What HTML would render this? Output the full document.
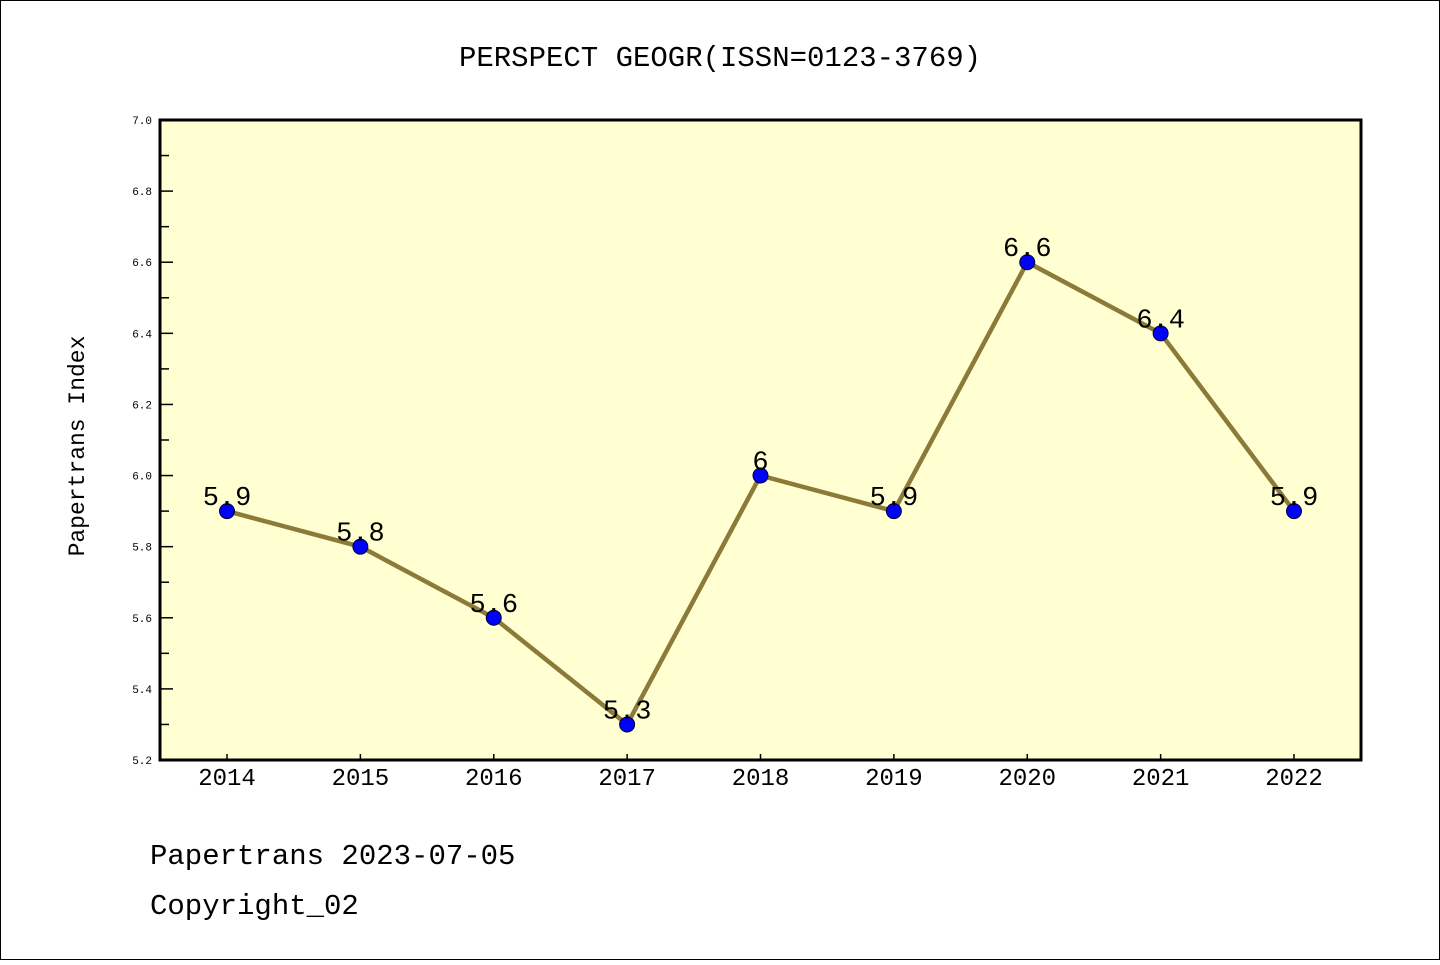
<!DOCTYPE html>
<html><head><meta charset="utf-8"><style>
body{margin:0;background:#fff}
svg text{font-family:"Liberation Mono","DejaVu Sans Mono",monospace}
</style></head><body>
<svg width="1440" height="960">
<rect x="0.5" y="0.5" width="1439" height="959" fill="#fff" stroke="#000"/>
<text x="720" y="66" text-anchor="middle" font-size="29">PERSPECT GEOGR(ISSN=0123-3769)</text>
<rect x="160" y="120" width="1201" height="640" fill="#ffffd2"/>
<g id="axes"></g>
<g id="marks"></g>
<rect x="160" y="120" width="1201" height="640" fill="none" stroke="#000" stroke-width="3"/>
<text transform="translate(84,446) rotate(-90)" text-anchor="middle" font-size="23">Papertrans Index</text>
<text x="150" y="864" font-size="29">Papertrans 2023-07-05</text>
<text x="150" y="914" font-size="29">Copyright_02</text>
</svg>
<script>
const years=["2014","2015","2016","2017","2018","2019","2020","2021","2022"];
const values=[5.9,5.8,5.6,5.3,6.0,5.9,6.6,6.4,5.9];
const labels=["5.9","5.8","5.6","5.3","6","5.9","6.6","6.4","5.9"];
const yTicks=[5.2,5.4,5.6,5.8,6.0,6.2,6.4,6.6,6.8,7.0];
const NS="http://www.w3.org/2000/svg";
const x=i=>227+i*(1294-227)/8;
const y=v=>760-(v-5.2)/(1.8)*640;
function mk(t,a,p){const e=document.createElementNS(NS,t);for(const k in a)e.setAttribute(k,a[k]);p.appendChild(e);return e;}
const ax=document.getElementById('axes'),mg=document.getElementById('marks');
yTicks.forEach((v,i)=>{
 const t=mk('line',{x1:160,x2:173,y1:y(v),y2:y(v),stroke:'#000','stroke-width':1.5},ax);
 
 
 const l=mk('text',{x:152,y:y(v)+4,'text-anchor':'end','font-size':11},ax);l.textContent=v.toFixed(1);
 
 
 if(i<yTicks.length-1){const m=mk('line',{x1:160,x2:169,y1:y(v+0.1),y2:y(v+0.1),stroke:'#000','stroke-width':1.5},ax);
 
 }
});
years.forEach((yr,i)=>{
 const t=mk('line',{x1:x(i),x2:x(i),y1:760,y2:754,stroke:'#000','stroke-width':1.5},ax);
 
 
 const l=mk('text',{x:x(i),y:785,'text-anchor':'middle','font-size':24},ax);l.textContent=yr;
 
 
});
const pl=mk('polyline',{points:values.map((v,i)=>x(i)+','+y(v)).join(' '),fill:'none',stroke:'#8c7a38','stroke-width':4.5},mg);


values.forEach((v,i)=>{
 const c=mk('circle',{cx:x(i),cy:y(v),r:7.5,fill:'#0000ff',stroke:'#000033','stroke-width':1},mg);
 
 
 const l=mk('text',{x:x(i),y:y(v)-6,'text-anchor':'middle','font-size':27},mg);l.textContent=labels[i];
 
 
});
</script>
</body></html>
